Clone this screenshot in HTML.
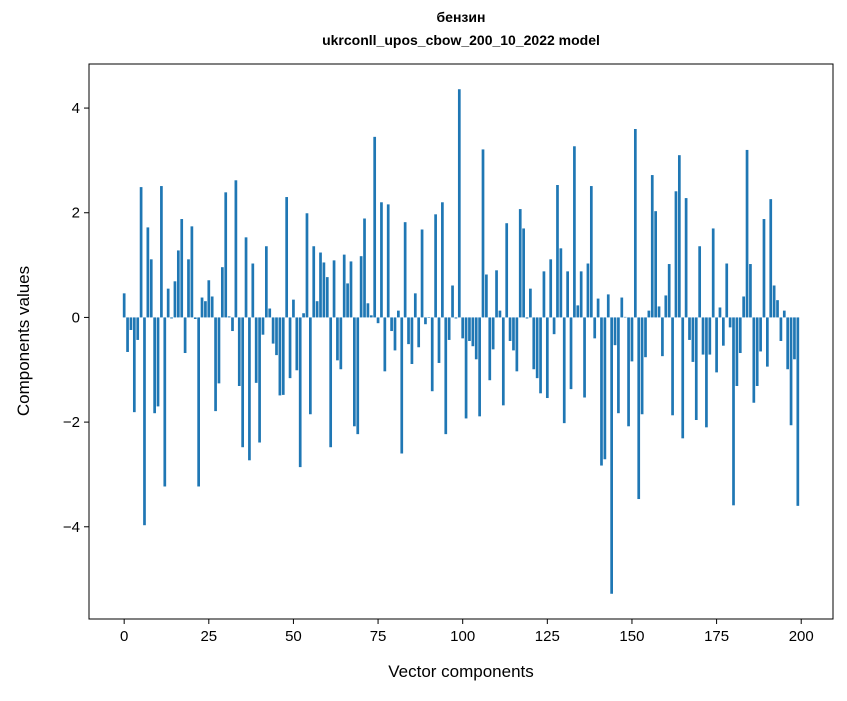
<!DOCTYPE html>
<html><head><meta charset="utf-8"><style>
body{margin:0;background:#fff;}
text{font-family:"Liberation Sans","DejaVu Sans",sans-serif;fill:#000;}
</style></head><body>
<svg id="chart" width="847" height="696" xmlns="http://www.w3.org/2000/svg">
<rect width="847" height="696" fill="#fff"/>
<text x="461" y="22" font-size="14" font-weight="bold" text-anchor="middle">бензин</text>
<text x="461" y="45" font-size="14" font-weight="bold" text-anchor="middle">ukrconll_upos_cbow_200_10_2022 model</text>
<g id="bars"></g>
<g id="axes"></g>
<text x="461" y="677" font-size="17" text-anchor="middle">Vector components</text>
<text transform="translate(29,341) rotate(-90)" font-size="17" text-anchor="middle">Components values</text>
</svg>
<script>
const values = [0.46,-0.66,-0.24,-1.81,-0.43,2.49,-3.97,1.72,1.11,-1.83,
-1.7,2.51,-3.23,0.55,-0.02,0.69,1.28,1.88,-0.68,1.11,
1.74,-0.03,-3.23,0.38,0.31,0.71,0.4,-1.79,-1.26,0.96,
2.39,0.02,-0.26,2.62,-1.31,-2.48,1.53,-2.73,1.03,-1.25,
-2.39,-0.33,1.36,0.17,-0.5,-0.72,-1.49,-1.48,2.3,-1.16,
0.34,-1.01,-2.86,0.08,1.99,-1.85,1.36,0.31,1.24,1.05,
0.77,-2.48,1.09,-0.82,-0.99,1.2,0.65,1.07,-2.08,-2.23,
1.17,1.89,0.27,0.04,3.45,-0.11,2.2,-1.03,2.16,-0.26,
-0.63,0.13,-2.6,1.82,-0.51,-0.89,0.46,-0.57,1.68,-0.13,
-0.01,-1.41,1.97,-0.87,2.2,-2.23,-0.43,0.61,-0.02,4.36,
-0.4,-1.93,-0.45,-0.55,-0.8,-1.89,3.21,0.82,-1.2,-0.61,
0.9,0.13,-1.68,1.8,-0.45,-0.63,-1.03,2.07,1.7,-0.02,
0.55,-0.99,-1.16,-1.45,0.88,-1.54,1.11,-0.32,2.53,1.32,
-2.02,0.88,-1.37,3.27,0.23,0.88,-1.53,1.03,2.51,-0.4,
0.36,-2.83,-2.71,0.44,-5.28,-0.53,-1.83,0.38,0.01,-2.08,
-0.84,3.6,-3.47,-1.85,-0.76,0.13,2.72,2.03,0.21,-0.74,
0.42,1.02,-1.87,2.41,3.1,-2.31,2.28,-0.43,-0.85,-1.96,
1.36,-0.71,-2.1,-0.71,1.7,-1.05,0.19,-0.54,1.03,-0.19,
-3.59,-1.31,-0.68,0.4,3.2,1.02,-1.63,-1.31,-0.65,1.88,
-0.94,2.26,0.61,0.33,-0.45,0.13,-0.99,-2.06,-0.8,-3.6];
const xTicks = [0,25,50,75,100,125,150,175,200];
const yTicks = [-4,-2,0,2,4];

const L=89,R=833,T=64,B=619;
const n=values.length;
const xmin=-0.4-(n-0.2)*0.05, xmax=n-1+0.4+(n-0.2)*0.05;
const vmax=Math.max(...values,0), vmin=Math.min(...values,0);
const ymin=vmin-(vmax-vmin)*0.05, ymax=vmax+(vmax-vmin)*0.05;
const sx=v=>L+(v-xmin)/(xmax-xmin)*(R-L);
const sy=v=>B-(v-ymin)/(ymax-ymin)*(B-T);
const NS='http://www.w3.org/2000/svg';
const bars=document.getElementById('bars');
values.forEach((v,i)=>{
  const r=document.createElementNS(NS,'rect');
  const x0=sx(i-0.4), x1=sx(i+0.4);
  const y0=sy(Math.max(v,0)), y1=sy(Math.min(v,0));
  r.setAttribute('x',x0);r.setAttribute('width',x1-x0);
  r.setAttribute('y',y0);r.setAttribute('height',Math.max(y1-y0,0.3));
  r.setAttribute('fill','#1f77b4');
  
  
  bars.appendChild(r);
});
const ax=document.getElementById('axes');
const frame=document.createElementNS(NS,'rect');
frame.setAttribute('x',L);frame.setAttribute('y',T);frame.setAttribute('width',R-L);frame.setAttribute('height',B-T);
frame.setAttribute('fill','none');frame.setAttribute('stroke','#000');frame.setAttribute('stroke-width','1');


ax.appendChild(frame);
xTicks.forEach(t=>{
  const x=sx(t);
  const l=document.createElementNS(NS,'line');
  l.setAttribute('x1',x);l.setAttribute('x2',x);l.setAttribute('y1',B);l.setAttribute('y2',B+5);l.setAttribute('stroke','#000');
  
  
  ax.appendChild(l);
  const tx=document.createElementNS(NS,'text');
  tx.setAttribute('x',x);tx.setAttribute('y',B+22);tx.setAttribute('font-size','15');tx.setAttribute('text-anchor','middle');
  tx.textContent=t;
  
  
  ax.appendChild(tx);
});
yTicks.forEach(t=>{
  const y=sy(t);
  const l=document.createElementNS(NS,'line');
  l.setAttribute('x1',L-5);l.setAttribute('x2',L);l.setAttribute('y1',y);l.setAttribute('y2',y);l.setAttribute('stroke','#000');
  
  
  ax.appendChild(l);
  const tx=document.createElementNS(NS,'text');
  tx.setAttribute('x',L-9);tx.setAttribute('y',y+5);tx.setAttribute('font-size','15');tx.setAttribute('text-anchor','end');
  tx.textContent=(t<0?'\u2212':'')+Math.abs(t);
  
  
  ax.appendChild(tx);
});
</script>
</body></html>
